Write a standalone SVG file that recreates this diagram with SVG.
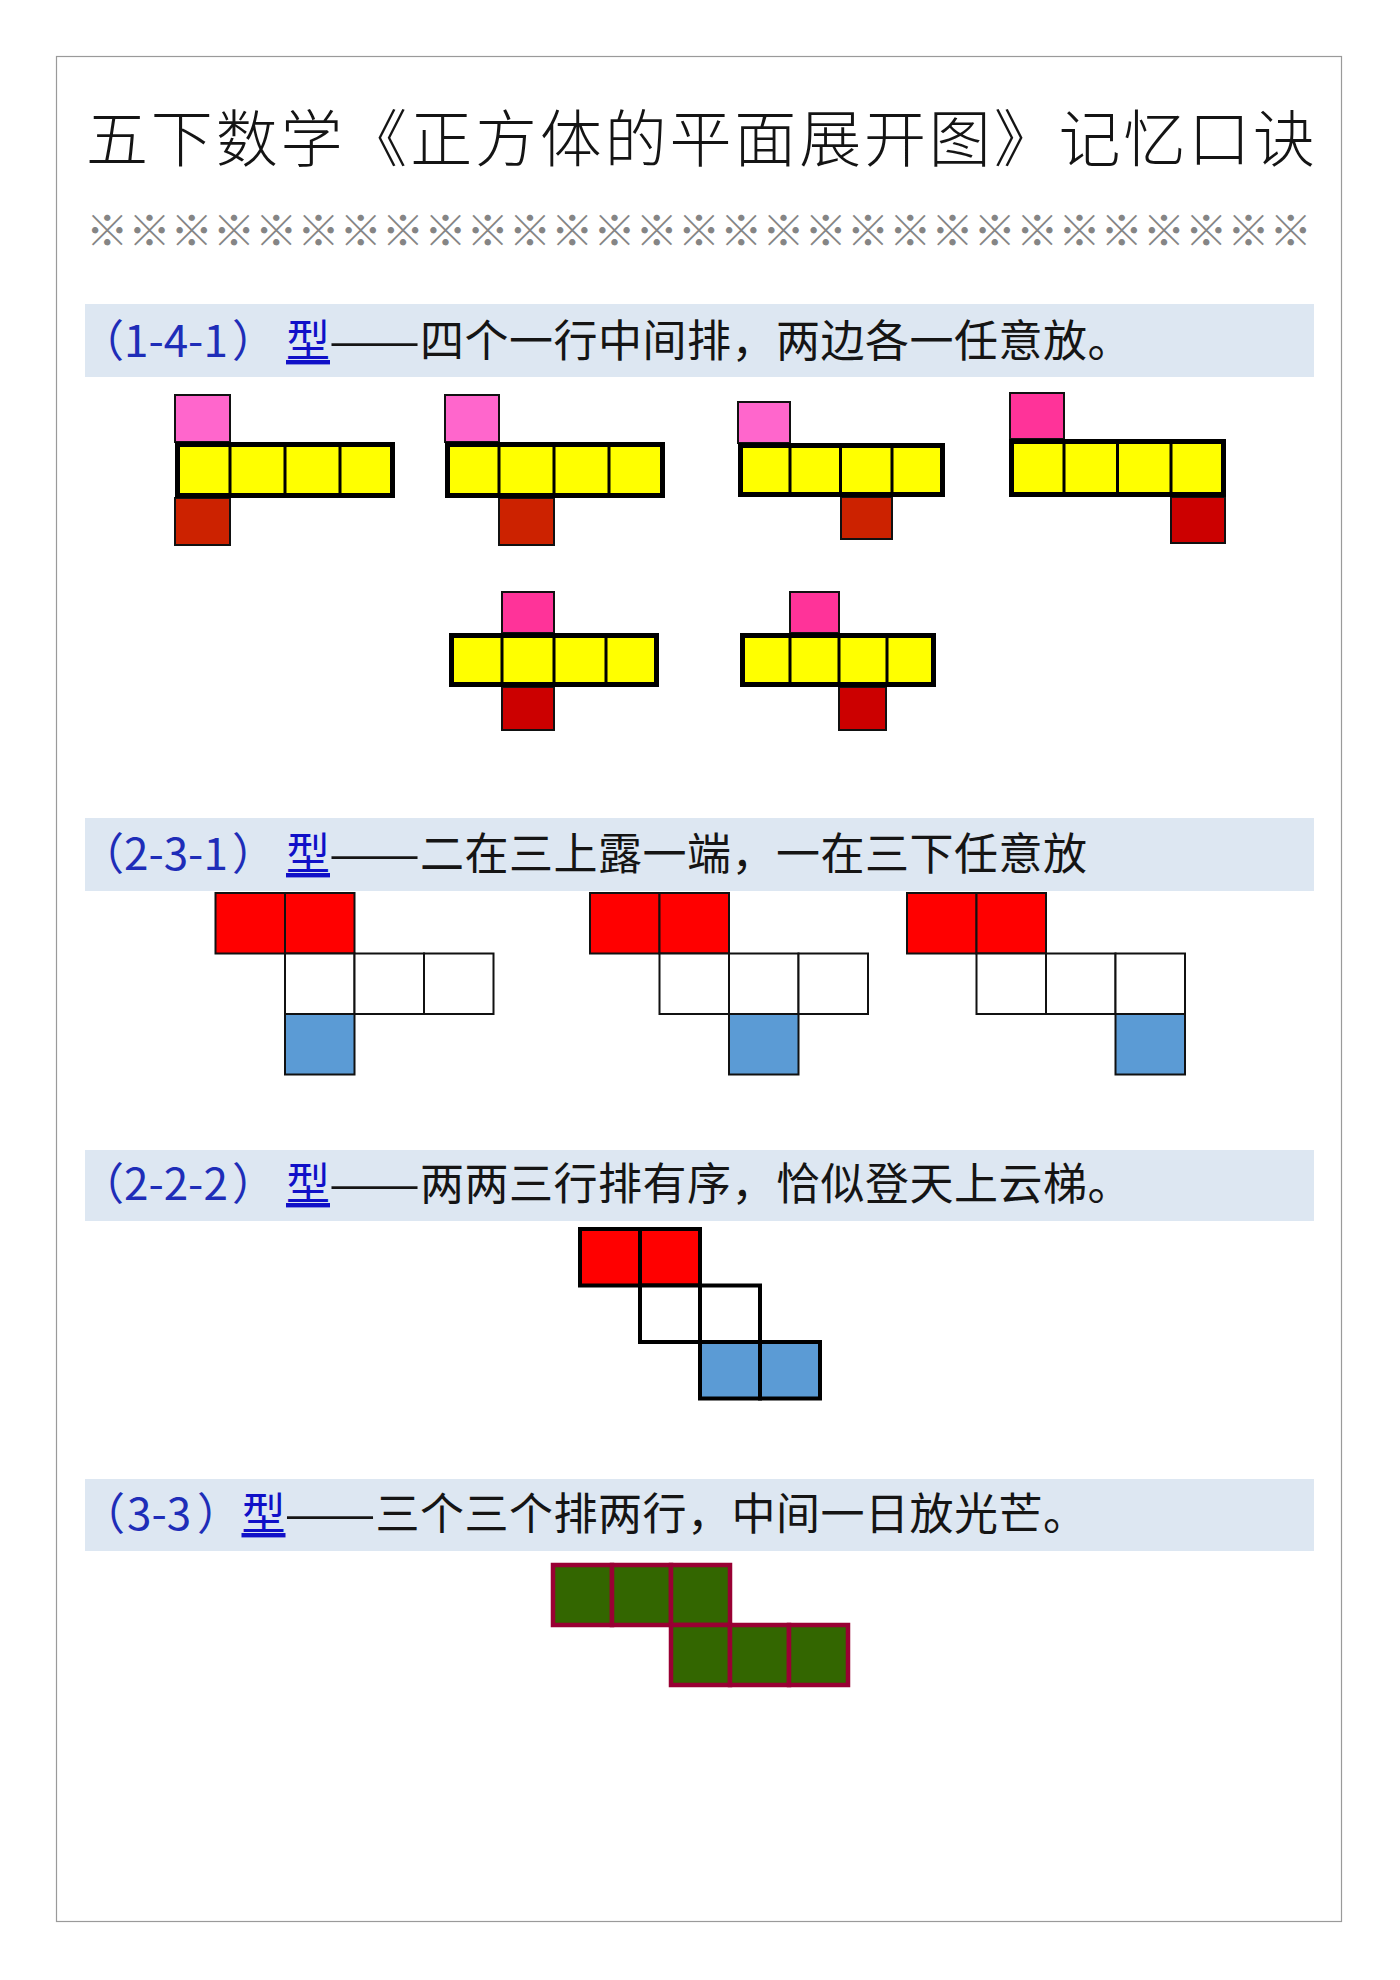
<svg xmlns="http://www.w3.org/2000/svg" width="1400" height="1980" viewBox="0 0 1400 1980">
<style>
.frame{fill:none;stroke:#9a9a9a;stroke-width:1.2}
.band{fill:#DDE7F2}
.title{font-family:"Liberation Serif","Noto Sans CJK SC",serif;font-size:62px;fill:#141414;font-weight:300}
.orn{font-family:"Noto Sans CJK SC",sans-serif;font-size:42.5px;fill:#858585}
.h{font-family:"Noto Sans CJK SC",sans-serif;font-size:44px;fill:#151515}
.bl{fill:#1E2DB8}
.xing{fill:#1010C8;text-decoration:underline}
.rest{letter-spacing:0.5px}
.cap{stroke:#111;stroke-width:2}
.pk1{fill:#FF66CC}
.pk2{fill:#FF3399}
.rd1{fill:#CC2200}
.rd2{fill:#CC0000}
.yl{fill:#FFFF00;stroke:#000;stroke-width:5}
.dv{stroke:#000;stroke-width:3}
.c2{stroke:#111;stroke-width:2}
.c3{stroke:#000;stroke-width:4}
.red{fill:#FF0000}
.wht{fill:#FFFFFF}
.blu{fill:#5B9BD5}
.grn{fill:#336600;stroke:#990033;stroke-width:4.5}
</style>
<rect x="0" y="0" width="1400" height="1980" fill="#FFFFFF"/>
<rect class="frame" x="56.5" y="56.5" width="1285" height="1865"/>

<g id="title">
<text class="title" x="86" y="162" textLength="1229" lengthAdjust="spacing">五下数学《正方体的平面展开图》记忆口诀</text>
</g>
<g id="ornament">
<text class="orn" x="86" y="246" textLength="1226" lengthAdjust="spacing">※※※※※※※※※※※※※※※※※※※※※※※※※※※※※</text>
</g>

<g id="section-141">
<rect class="band" x="85" y="304" width="1229" height="73"/>
<text class="h" y="357"><tspan class="bl" x="80">（</tspan><tspan class="bl" x="124">1-4-1</tspan><tspan class="bl" x="232">）</tspan><tspan class="xing" x="286">型</tspan></text>
<text class="h" x="329" y="357" textLength="91" lengthAdjust="spacingAndGlyphs">——</text>
<text class="h rest" x="420" y="357">四个一行中间排，两边各一任意放。</text>
</g>
<g id="net-141-a">
<rect class="cap pk1" x="175" y="395" width="55" height="47"/>
<rect class="cap rd1" x="175" y="498" width="55" height="47"/>
<rect class="yl" x="177.5" y="444.5" width="215" height="51"/>
<path class="dv" d="M230 444.5V495.5M285 444.5V495.5M340 444.5V495.5"/>
</g>
<g id="net-141-b">
<rect class="cap pk1" x="445" y="395" width="54" height="47"/>
<rect class="cap rd1" x="499" y="498" width="55" height="47"/>
<rect class="yl" x="447.5" y="444.5" width="215" height="51"/>
<path class="dv" d="M499 444.5V495.5M554 444.5V495.5M609 444.5V495.5"/>
</g>
<g id="net-141-c">
<rect class="cap pk1" x="738" y="402" width="52" height="41"/>
<rect class="cap rd1" x="841" y="497" width="51" height="42"/>
<rect class="yl" x="740.5" y="445.5" width="202" height="49"/>
<path class="dv" d="M790 445.5V494.5M840.5 445.5V494.5M892 445.5V494.5"/>
</g>
<g id="net-141-d">
<rect class="cap pk2" x="1010" y="393" width="54" height="46"/>
<rect class="cap rd2" x="1171" y="497" width="54" height="46"/>
<rect class="yl" x="1011.5" y="441.5" width="212" height="53"/>
<path class="dv" d="M1064 441.5V494.5M1117.5 441.5V494.5M1171 441.5V494.5"/>
</g>
<g id="net-141-e">
<rect class="cap pk2" x="502" y="592" width="52" height="41"/>
<rect class="cap rd2" x="502" y="687" width="52" height="43"/>
<rect class="yl" x="451.5" y="635.5" width="205" height="49"/>
<path class="dv" d="M502 635.5V684.5M554 635.5V684.5M606 635.5V684.5"/>
</g>
<g id="net-141-f">
<rect class="cap pk2" x="790" y="592" width="49" height="41"/>
<rect class="cap rd2" x="839" y="687" width="47" height="43"/>
<rect class="yl" x="742.5" y="635.5" width="191" height="49"/>
<path class="dv" d="M790 635.5V684.5M839 635.5V684.5M887 635.5V684.5"/>
</g>

<g id="section-231">
<rect class="band" x="85" y="818" width="1229" height="73"/>
<text class="h" y="870"><tspan class="bl" x="80">（</tspan><tspan class="bl" x="124">2-3-1</tspan><tspan class="bl" x="232">）</tspan><tspan class="xing" x="286">型</tspan></text>
<text class="h" x="329" y="870" textLength="91" lengthAdjust="spacingAndGlyphs">——</text>
<text class="h rest" x="420" y="870">二在三上露一端，一在三下任意放</text>
</g>
<g id="net-231-a">
<rect class="c2 red" x="215.5" y="893" width="69.5" height="60.5"/>
<rect class="c2 red" x="285" y="893" width="69.5" height="60.5"/>
<rect class="c2 wht" x="285" y="953.5" width="69.5" height="60.5"/>
<rect class="c2 wht" x="354.5" y="953.5" width="69.5" height="60.5"/>
<rect class="c2 wht" x="424" y="953.5" width="69.5" height="60.5"/>
<rect class="c2 blu" x="285" y="1014" width="69.5" height="60.5"/>
</g>
<g id="net-231-b">
<rect class="c2 red" x="590" y="893" width="69.5" height="60.5"/>
<rect class="c2 red" x="659.5" y="893" width="69.5" height="60.5"/>
<rect class="c2 wht" x="659.5" y="953.5" width="69.5" height="60.5"/>
<rect class="c2 wht" x="729" y="953.5" width="69.5" height="60.5"/>
<rect class="c2 wht" x="798.5" y="953.5" width="69.5" height="60.5"/>
<rect class="c2 blu" x="729" y="1014" width="69.5" height="60.5"/>
</g>
<g id="net-231-c">
<rect class="c2 red" x="907" y="893" width="69.5" height="60.5"/>
<rect class="c2 red" x="976.5" y="893" width="69.5" height="60.5"/>
<rect class="c2 wht" x="976.5" y="953.5" width="69.5" height="60.5"/>
<rect class="c2 wht" x="1046" y="953.5" width="69.5" height="60.5"/>
<rect class="c2 wht" x="1115.5" y="953.5" width="69.5" height="60.5"/>
<rect class="c2 blu" x="1115.5" y="1014" width="69.5" height="60.5"/>
</g>

<g id="section-222">
<rect class="band" x="85" y="1150" width="1229" height="71"/>
<text class="h" y="1200"><tspan class="bl" x="80">（</tspan><tspan class="bl" x="124">2-2-2</tspan><tspan class="bl" x="232">）</tspan><tspan class="xing" x="286">型</tspan></text>
<text class="h" x="329" y="1200" textLength="91" lengthAdjust="spacingAndGlyphs">——</text>
<text class="h rest" x="420" y="1200">两两三行排有序，恰似登天上云梯。</text>
</g>
<g id="net-222">
<rect class="c3 red" x="580" y="1229" width="60" height="56.5"/>
<rect class="c3 red" x="640" y="1229" width="60" height="56.5"/>
<rect class="c3 wht" x="640" y="1285.5" width="60" height="56.5"/>
<rect class="c3 wht" x="700" y="1285.5" width="60" height="56.5"/>
<rect class="c3 blu" x="700" y="1342" width="60" height="56.5"/>
<rect class="c3 blu" x="760" y="1342" width="60" height="56.5"/>
</g>

<g id="section-33">
<rect class="band" x="85" y="1479" width="1229" height="72"/>
<text class="h" y="1530"><tspan class="bl" x="81">（</tspan><tspan class="bl" x="127">3-3</tspan><tspan class="bl" x="197">）</tspan><tspan class="xing" x="241.5">型</tspan></text>
<text class="h" x="284.5" y="1530" textLength="91" lengthAdjust="spacingAndGlyphs">——</text>
<text class="h rest" x="375.5" y="1530">三个三个排两行，中间一日放光芒。</text>
</g>
<g id="net-33">
<rect class="grn" x="553" y="1565" width="59" height="60"/>
<rect class="grn" x="612" y="1565" width="59" height="60"/>
<rect class="grn" x="671" y="1565" width="59" height="60"/>
<rect class="grn" x="671" y="1625" width="59" height="60"/>
<rect class="grn" x="730" y="1625" width="59" height="60"/>
<rect class="grn" x="789" y="1625" width="59" height="60"/>
</g>

<g id="connectors"></g>
</svg>
